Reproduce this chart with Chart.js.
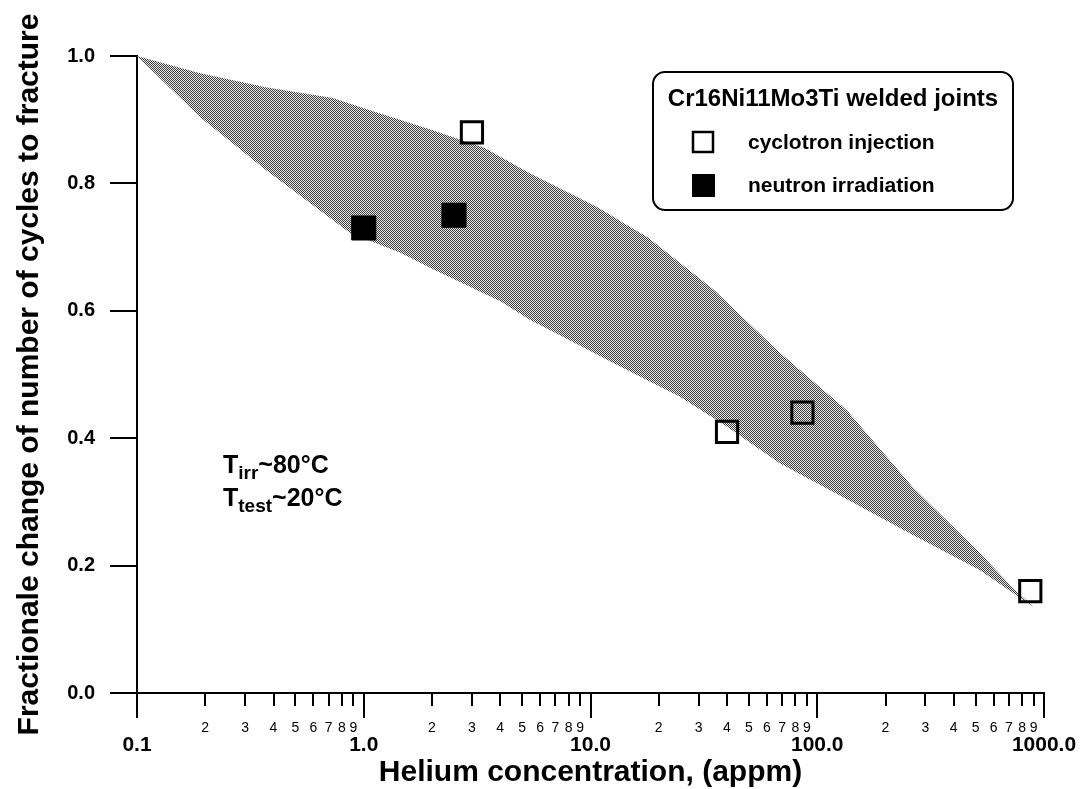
<!DOCTYPE html>
<html>
<head>
<meta charset="utf-8">
<script src="https://cdn.jsdelivr.net/npm/chart.js@4.4.1/dist/chart.umd.min.js"></script>
<style>
  html, body { margin: 0; padding: 0; background: #fff; }
  #wrap { width: 1086px; height: 789px; position: relative; }
</style>
</head>
<body>
<div id="wrap"><canvas id="chart"></canvas></div>
<script>
// shaded scatter band (upper and lower edge)
const bandUpperX = [0.1, 0.19, 0.37, 0.73, 1.0, 2.0, 3.4, 5.4, 10.7, 14.9, 17.8, 35, 68, 135, 264, 520, 730, 900];
const bandUpperY = [1.0, 0.973, 0.951, 0.934, 0.918, 0.884, 0.856, 0.816, 0.763, 0.732, 0.716, 0.633, 0.535, 0.444, 0.323, 0.22, 0.165, 0.135];
const bandLowerX = [0.1, 0.19, 0.37, 0.87, 1.45, 2.0, 4.0, 5.4, 9.0, 12.6, 17.8, 24.8, 40, 68, 135, 264, 520, 730, 900];
const bandLowerY = [1.0, 0.904, 0.821, 0.722, 0.691, 0.666, 0.615, 0.586, 0.545, 0.518, 0.491, 0.465, 0.418, 0.361, 0.304, 0.248, 0.193, 0.157, 0.135];

// measured points
const cyclotronX = [3.0, 40, 86, 870];
const cyclotronY = [0.88, 0.41, 0.44, 0.16];
const neutronX = [1.0, 2.5];
const neutronY = [0.73, 0.75];

// axes
const yTicks = [0.0, 0.2, 0.4, 0.6, 0.8, 1.0];
const xDecades = [0.1, 1, 10, 100, 1000];
const xDecadeLabels = ['0.1', '1.0', '10.0', '100.0', '1000.0'];
const xMinorDigits = [2, 3, 4, 5, 6, 7, 8, 9];

const legendTitle = 'Cr16Ni11Mo3Ti welded joints';
const FONT = '"Liberation Sans", Arial, sans-serif';

const zip = (xs, ys) => xs.map((x, i) => ({ x: x, y: ys[i] }));

// tick list for the log axis: decade + 2..9 inside each decade
const xTickInfo = [];
xDecades.forEach((d, i) => {
  xTickInfo.push({ value: d, label: ['', xDecadeLabels[i]], major: true });
  if (i < xDecades.length - 1) {
    xMinorDigits.forEach(k => xTickInfo.push({ value: d * k, label: String(k), major: false }));
  }
});

// dithered grey like the printed band
function makePattern() {
  const c = document.createElement('canvas');
  c.width = 2; c.height = 2;
  const g = c.getContext('2d');
  g.fillStyle = '#ececec';
  g.fillRect(0, 0, 2, 2);
  g.fillStyle = '#3c3c3c';
  g.fillRect(0, 0, 1, 1);
  g.fillRect(1, 1, 1, 1);
  return g.createPattern(c, 'repeat');
}

function roundRect(ctx, x, y, w, h, r) {
  ctx.beginPath();
  ctx.moveTo(x + r, y);
  ctx.arcTo(x + w, y, x + w, y + h, r);
  ctx.arcTo(x + w, y + h, x, y + h, r);
  ctx.arcTo(x, y + h, x, y, r);
  ctx.arcTo(x, y, x + w, y, r);
  ctx.closePath();
}

// text with a lowered subscript part
function drawParts(ctx, x, y, parts) {
  ctx.textBaseline = 'alphabetic';
  ctx.textAlign = 'left';
  parts.forEach(p => {
    ctx.font = 'bold ' + p.size + 'px ' + FONT;
    ctx.fillText(p.text, x, y + p.dy);
    x += ctx.measureText(p.text).width;
  });
}

const overlay = {
  id: 'overlay',
  afterDraw(chart) {
    const ctx = chart.ctx;
    const xs = chart.scales.x;
    const area = chart.chartArea;
    ctx.save();
    ctx.strokeStyle = '#000';
    ctx.fillStyle = '#000';

    // short minor ticks
    ctx.lineWidth = 2;
    xTickInfo.forEach(t => {
      if (t.major) return;
      const px = Math.round(xs.getPixelForValue(t.value));
      ctx.beginPath();
      ctx.moveTo(px, xs.top);
      ctx.lineTo(px, xs.top + 13);
      ctx.stroke();
    });

    // legend box
    const bx = 653, by = 72, bw = 360, bh = 138;
    ctx.lineWidth = 2;
    roundRect(ctx, bx, by, bw, bh, 12);
    ctx.fillStyle = '#fff';
    ctx.fill();
    ctx.stroke();
    ctx.fillStyle = '#000';
    ctx.font = 'bold 24px ' + FONT;
    ctx.textAlign = 'center';
    ctx.textBaseline = 'middle';
    ctx.fillText(legendTitle, bx + bw / 2, by + 27);

    const ds = chart.data.datasets;
    ctx.textAlign = 'left';
    ctx.font = 'bold 21px ' + FONT;
    // open square
    ctx.lineWidth = 2.5;
    ctx.strokeRect(693, 132, 20, 20);
    ctx.fillText(ds[0].label, 748, 143);
    // filled square
    ctx.fillRect(692, 174, 23, 23);
    ctx.fillText(ds[1].label, 748, 186);

    // temperature note
    const nx = area.left + 86;
    drawParts(ctx, nx, 473, [
      { text: 'T', size: 25, dy: 0 },
      { text: 'irr', size: 19, dy: 6 },
      { text: '~80°C', size: 25, dy: 0 }
    ]);
    drawParts(ctx, nx, 506, [
      { text: 'T', size: 25, dy: 0 },
      { text: 'test', size: 19, dy: 6 },
      { text: '~20°C', size: 25, dy: 0 }
    ]);
    ctx.restore();
  }
};

const band = makePattern();

new Chart(document.getElementById('chart'), {
  type: 'scatter',
  data: {
    datasets: [
      {
        label: 'cyclotron injection',
        data: zip(cyclotronX, cyclotronY),
        pointStyle: 'rect',
        pointRadius: 15,
        borderWidth: 3,
        borderColor: '#000',
        backgroundColor: 'rgba(0,0,0,0)',
        order: 0
      },
      {
        label: 'neutron irradiation',
        data: zip(neutronX, neutronY),
        pointStyle: 'rect',
        pointRadius: 17,
        borderWidth: 1,
        borderColor: '#000',
        backgroundColor: '#000',
        order: 0
      },
      {
        type: 'line',
        label: 'band upper',
        data: zip(bandUpperX, bandUpperY),
        borderColor: 'rgba(0,0,0,0)',
        borderWidth: 0,
        pointRadius: 0,
        tension: 0,
        fill: '+1',
        backgroundColor: band,
        order: 2
      },
      {
        type: 'line',
        label: 'band lower',
        data: zip(bandLowerX, bandLowerY),
        borderColor: 'rgba(0,0,0,0)',
        borderWidth: 0,
        pointRadius: 0,
        tension: 0,
        fill: false,
        order: 2
      }
    ]
  },
  options: {
    responsive: true,
    maintainAspectRatio: false,
    animation: false,
    events: [],
    layout: { padding: { top: 56, right: 42, bottom: 0, left: 0 } },
    plugins: {
      legend: { display: false },
      tooltip: { enabled: false }
    },
    scales: {
      x: {
        type: 'logarithmic',
        min: 0.1,
        max: 1000,
        border: { color: '#000', width: 2 },
        grid: {
          drawOnChartArea: false,
          drawTicks: true,
          tickLength: 25,
          lineWidth: 2,
          color: c => (xTickInfo[c.index] && xTickInfo[c.index].major) ? '#000' : 'rgba(0,0,0,0)'
        },
        ticks: {
          autoSkip: false,
          maxRotation: 0,
          minRotation: 0,
          padding: 2,
          color: '#000',
          font: c => (xTickInfo[c.index] && xTickInfo[c.index].major)
            ? { family: FONT, size: 21, weight: 'bold', lineHeight: 0.8 }
            : { family: FONT, size: 14, weight: 'normal', lineHeight: 1.2 },
          callback: (v, i) => xTickInfo[i].label
        },
        afterBuildTicks: s => { s.ticks = xTickInfo.map(t => ({ value: t.value })); },
        afterFit: s => { s.height = 96; },
        title: {
          display: true,
          text: 'Helium concentration, (appm)',
          color: '#000',
          font: { family: FONT, size: 30, weight: 'bold', lineHeight: 1 },
          padding: { top: 0, bottom: 1 }
        }
      },
      y: {
        min: 0,
        max: 1,
        border: { color: '#000', width: 2 },
        grid: { drawOnChartArea: false, tickLength: 27, lineWidth: 2, color: '#000' },
        ticks: {
          padding: 15,
          color: '#000',
          font: { family: FONT, size: 20, weight: 'bold' },
          callback: v => Number(v).toFixed(1)
        },
        afterBuildTicks: s => { s.ticks = yTicks.map(v => ({ value: v })); },
        afterFit: s => { s.width = 137; },
        title: {
          display: true,
          text: 'Fractionale change of number of cycles to fracture',
          color: '#000',
          font: { family: FONT, size: 30, weight: 'bold', lineHeight: 1.2 },
          padding: { top: 12, bottom: 0 }
        }
      }
    }
  },
  plugins: [overlay]
});
</script>
</body>
</html>
